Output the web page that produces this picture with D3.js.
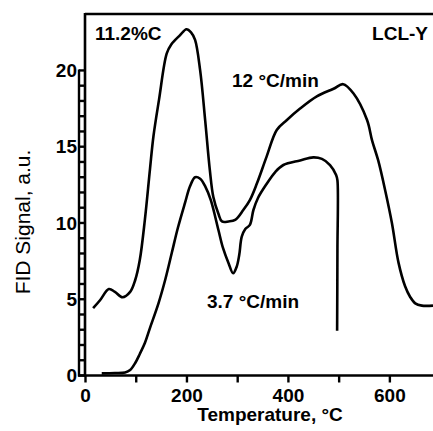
<!DOCTYPE html>
<html><head><meta charset="utf-8">
<script src="https://cdn.jsdelivr.net/npm/d3@7"></script>
<style>body{margin:0;background:#fff}svg{display:block}text{font-family:"Liberation Sans",Arial,sans-serif}</style>
</head><body>
<script>
// Data
const xTicks = [0, 100, 200, 300, 400, 500, 600];
const xTickLabels = ["0", "", "200", "", "400", "", "600"];
const yTicks = [0, 5, 10, 15, 20];
const yMinorTicks = d3.range(0, 21, 1);

// 12 °C/min curve [temperature °C, signal]
const curve12T = [16, 30, 47, 59, 74, 89, 99, 108, 118, 128, 135, 146, 161, 170, 187, 200, 209, 217, 227, 237, 246, 253, 263, 270, 283, 296, 312, 325, 339, 358, 378, 398, 424, 457, 490, 509, 529, 556, 566, 578, 592, 605, 618, 631, 641, 651, 664, 686];
const curve12Y = [4.41, 4.95, 5.67, 5.48, 5.13, 5.48, 6.26, 7.57, 10.2, 13.5, 15.7, 18.1, 21.1, 21.7, 22.3, 22.7, 22.5, 22.0, 20.0, 16.7, 13.5, 11.7, 10.6, 10.1, 10.1, 10.2, 10.85, 11.5, 12.6, 14.35, 16.1, 16.75, 17.5, 18.3, 18.8, 19.1, 18.5, 16.75, 15.4, 14.1, 12.1, 10.0, 7.4, 5.85, 5.15, 4.73, 4.58, 4.58];

// 3.7 °C/min curve
const curve37T = [33, 59, 79, 89, 99, 108, 118, 128, 145, 158, 171, 183, 197, 207, 217, 227, 237, 248, 263, 272, 283, 292, 299, 304, 309, 316, 325, 332, 341, 358, 375, 391, 424, 450, 467, 483, 495, 497.6, 497.6, 497];
const curve37Y = [0.14, 0.16, 0.2, 0.36, 0.82, 1.41, 2.13, 3.11, 4.75, 6.26, 8.03, 9.67, 11.3, 12.4, 13.0, 12.9, 12.4, 11.5, 9.54, 8.36, 7.36, 6.7, 7.13, 7.9, 9.1, 9.6, 9.87, 10.85, 11.64, 12.56, 13.34, 13.8, 14.1, 14.3, 14.2, 13.8, 13.15, 12.8, 8.2, 2.94];

const W = 433, H = 431;
const svg = d3.select("body").append("svg").attr("width", W).attr("height", H);

const x = d3.scaleLinear().domain([0, 686]).range([85, 433]);
const y = d3.scaleLinear().domain([0, 23.7]).range([375.5, 14]);

const line = d3.line().x(d => x(d[0])).y(d => y(d[1])).curve(d3.curveCatmullRom.alpha(0.5));
const s12 = curve12T.map((t, i) => [t, curve12Y[i]]);
const s37 = curve37T.map((t, i) => [t, curve37Y[i]]);

svg.append("path").attr("d", line(s12)).attr("fill", "none").attr("stroke", "#000").attr("stroke-width", 2.6).attr("stroke-linejoin", "round");
svg.append("path").attr("d", line(s37)).attr("fill", "none").attr("stroke", "#000").attr("stroke-width", 2.6).attr("stroke-linejoin", "round");

// frame top
svg.append("line").attr("x1", x(0)).attr("x2", W).attr("y1", y(23.7)).attr("y2", y(23.7)).attr("stroke", "#000").attr("stroke-width", 2.5);

// y axis ladder (minor ticks between two vertical lines)
const x0 = x(0);
svg.append("g").selectAll("line").data(yMinorTicks).join("line")
  .attr("x1", x0 - 6).attr("x2", x0).attr("y1", d => y(d)).attr("y2", d => y(d))
  .attr("stroke", "#000").attr("stroke-width", 2.4);
svg.append("line").attr("x1", x0 - 6).attr("x2", x0 - 6).attr("y1", y(0) + 1).attr("y2", y(20) - 1).attr("stroke", "#000").attr("stroke-width", 2.4);
svg.append("line").attr("x1", x0).attr("x2", x0).attr("y1", y(0) + 1).attr("y2", y(23.7) - 1).attr("stroke", "#000").attr("stroke-width", 2.6);
const yLab = svg.append("g").attr("transform", `translate(${x0 - 8},0)`);
yLab.call(d3.axisLeft(y).tickValues(yTicks).tickSize(0).tickPadding(0).tickFormat(d3.format("d")));
yLab.select(".domain").remove();
yLab.selectAll("text").attr("font-size", 19).attr("font-weight", "bold").attr("font-family", "Liberation Sans, Arial, sans-serif").attr("fill", "#000");

// x axis
const xAxisG = svg.append("g").attr("transform", `translate(0,${y(0)})`);
xAxisG.call(d3.axisBottom(x).tickValues(xTicks).tickSize(7).tickPadding(6).tickFormat((d, i) => xTickLabels[i]));
xAxisG.select(".domain").remove();
xAxisG.selectAll(".tick line").attr("stroke", "#000").attr("stroke-width", 2.4);
xAxisG.selectAll("text").attr("font-size", 19).attr("font-weight", "bold").attr("font-family", "Liberation Sans, Arial, sans-serif").attr("fill", "#000");
svg.append("line").attr("x1", x0 - 7).attr("x2", W).attr("y1", y(0)).attr("y2", y(0)).attr("stroke", "#000").attr("stroke-width", 2.6);

// titles
svg.append("text").attr("x", 270).attr("y", 421).attr("text-anchor", "middle").attr("font-size", 19).attr("font-weight", "bold").text("Temperature, °C");
svg.append("text").attr("transform", "translate(30,222) rotate(-90)").attr("text-anchor", "middle").attr("font-size", 21).text("FID Signal, a.u.");

// annotations
svg.append("text").attr("x", 95).attr("y", 40).attr("font-size", 19).attr("font-weight", "bold").text("11.2%C");
svg.append("text").attr("x", 428).attr("y", 40).attr("text-anchor", "end").attr("font-size", 19).attr("font-weight", "bold").text("LCL-Y");
svg.append("text").attr("x", 232).attr("y", 87).attr("font-size", 19).attr("font-weight", "bold").text("12 °C/min");
svg.append("text").attr("x", 207).attr("y", 308).attr("font-size", 19).attr("font-weight", "bold").text("3.7 °C/min");
</script>
</body></html>
